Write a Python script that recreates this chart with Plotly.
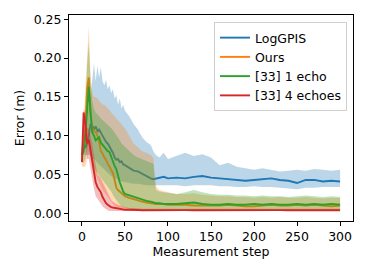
import plotly.graph_objects as go

# ---------------- data ----------------
STEPS = [0, 2, 4, 6, 8, 10, 12, 14, 16, 18, 20, 22, 24, 26, 28, 30, 32, 34, 36, 38,
         40, 42, 44, 46, 48, 50, 55, 60, 65, 70, 75, 80, 83, 86, 90, 95, 100,
         110, 120, 130, 140, 150, 160, 170, 180, 190, 200,
         210, 220, 230, 240, 250, 260, 270, 280, 290, 300]

LOGGPIS_MEAN = [0.082, 0.083, 0.085, 0.090, 0.100, 0.115, 0.113, 0.108, 0.112, 0.106,
                0.108, 0.104, 0.100, 0.097, 0.092, 0.090, 0.086, 0.082, 0.078, 0.072,
                0.069, 0.070, 0.066, 0.067, 0.063, 0.062, 0.058, 0.055, 0.054, 0.051,
                0.047, 0.045, 0.044, 0.045, 0.046, 0.047, 0.045,
                0.046, 0.045, 0.047, 0.048, 0.046, 0.045, 0.044, 0.043, 0.042, 0.043,
                0.044, 0.045, 0.043, 0.042, 0.039, 0.043, 0.043, 0.041, 0.042, 0.041]
LOGGPIS_UPPER = [0.090, 0.095, 0.100, 0.120, 0.140, 0.150, 0.170, 0.193, 0.170, 0.190,
                 0.175, 0.188, 0.170, 0.165, 0.172, 0.160, 0.165, 0.155, 0.160, 0.148,
                 0.152, 0.140, 0.148, 0.135, 0.140, 0.132, 0.125, 0.115, 0.108, 0.098,
                 0.092, 0.088, 0.080, 0.075, 0.072, 0.078, 0.070,
                 0.074, 0.078, 0.074, 0.076, 0.072, 0.062, 0.065, 0.060, 0.058, 0.056,
                 0.058, 0.056, 0.054, 0.055, 0.056, 0.055, 0.057, 0.056, 0.055, 0.056]
LOGGPIS_LOWER = [0.075, 0.075, 0.075, 0.075, 0.075, 0.075, 0.070, 0.070, 0.068, 0.065,
                 0.062, 0.060, 0.058, 0.056, 0.054, 0.052, 0.050, 0.048, 0.046, 0.045,
                 0.044, 0.043, 0.042, 0.041, 0.040, 0.040, 0.039, 0.038, 0.038, 0.037,
                 0.036, 0.036, 0.036, 0.036, 0.036, 0.036, 0.036,
                 0.036, 0.035, 0.036, 0.036, 0.036, 0.035, 0.035, 0.034, 0.034, 0.035,
                 0.034, 0.034, 0.033, 0.032, 0.031, 0.033, 0.033, 0.034, 0.034, 0.034]

OURS_MEAN = [0.075, 0.090, 0.110, 0.160, 0.175, 0.130, 0.110, 0.105, 0.105, 0.100,
             0.092, 0.080, 0.077, 0.072, 0.069, 0.064, 0.060, 0.057, 0.052, 0.043,
             0.033, 0.030, 0.028, 0.026, 0.024, 0.022, 0.020, 0.018, 0.016, 0.015,
             0.014, 0.013, 0.013, 0.012, 0.012, 0.012, 0.011,
             0.011, 0.011, 0.010, 0.010, 0.010, 0.010, 0.011, 0.010, 0.009, 0.009,
             0.010, 0.011, 0.010, 0.010, 0.011, 0.010, 0.011, 0.010, 0.009, 0.010]
OURS_UPPER = [0.080, 0.110, 0.160, 0.210, 0.240, 0.180, 0.155, 0.150, 0.150, 0.148,
              0.145, 0.143, 0.140, 0.140, 0.138, 0.135, 0.133, 0.130, 0.128, 0.125,
              0.122, 0.120, 0.118, 0.115, 0.112, 0.110, 0.100, 0.090, 0.085, 0.080,
              0.078, 0.075, 0.072, 0.035, 0.030, 0.028, 0.027,
              0.025, 0.025, 0.026, 0.024, 0.023, 0.022, 0.022, 0.021, 0.021, 0.020,
              0.021, 0.020, 0.021, 0.020, 0.020, 0.021, 0.020, 0.019, 0.020, 0.020]
OURS_LOWER = [0.060, 0.060, 0.060, 0.070, 0.080, 0.070, 0.060, 0.055, 0.050, 0.045,
              0.040, 0.035, 0.030, 0.027, 0.024, 0.020, 0.018, 0.015, 0.012, 0.010,
              0.008, 0.007, 0.006, 0.005, 0.005, 0.004, 0.004, 0.004, 0.004, 0.004,
              0.004, 0.004, 0.004, 0.004, 0.004, 0.004, 0.004,
              0.004, 0.004, 0.004, 0.004, 0.004, 0.004, 0.004, 0.004, 0.004, 0.004,
              0.004, 0.004, 0.004, 0.004, 0.004, 0.004, 0.004, 0.004, 0.004, 0.004]

ECHO1_MEAN = [0.075, 0.080, 0.100, 0.140, 0.163, 0.130, 0.104, 0.100, 0.094, 0.096,
              0.098, 0.091, 0.088, 0.086, 0.083, 0.080, 0.079, 0.072, 0.066, 0.061,
              0.057, 0.048, 0.040, 0.034, 0.028, 0.025, 0.023, 0.021, 0.020, 0.018,
              0.016, 0.015, 0.014, 0.013, 0.013, 0.012, 0.012,
              0.012, 0.013, 0.014, 0.012, 0.011, 0.011, 0.012, 0.011, 0.011, 0.012,
              0.011, 0.012, 0.011, 0.011, 0.012, 0.011, 0.012, 0.011, 0.012, 0.011]
ECHO1_UPPER = [0.080, 0.090, 0.130, 0.190, 0.220, 0.170, 0.145, 0.135, 0.130, 0.128,
               0.125, 0.122, 0.120, 0.118, 0.116, 0.115, 0.112, 0.110, 0.107, 0.104,
               0.100, 0.097, 0.094, 0.090, 0.088, 0.085, 0.080, 0.075, 0.072, 0.070,
               0.068, 0.066, 0.064, 0.030, 0.028, 0.027, 0.026,
               0.025, 0.027, 0.030, 0.027, 0.025, 0.024, 0.024, 0.023, 0.023, 0.022,
               0.023, 0.022, 0.022, 0.021, 0.022, 0.023, 0.022, 0.021, 0.022, 0.021]
ECHO1_LOWER = [0.065, 0.065, 0.070, 0.080, 0.090, 0.075, 0.065, 0.060, 0.055, 0.052,
               0.050, 0.047, 0.044, 0.040, 0.037, 0.034, 0.031, 0.028, 0.024, 0.020,
               0.017, 0.014, 0.011, 0.009, 0.008, 0.007, 0.006, 0.005, 0.005, 0.005,
               0.004, 0.004, 0.004, 0.004, 0.004, 0.004, 0.004,
               0.004, 0.004, 0.004, 0.004, 0.004, 0.004, 0.004, 0.004, 0.004, 0.004,
               0.004, 0.004, 0.004, 0.004, 0.004, 0.004, 0.004, 0.004, 0.004, 0.004]

ECHO4_MEAN = [0.066, 0.130, 0.115, 0.090, 0.095, 0.080, 0.070, 0.055, 0.040, 0.034,
              0.031, 0.027, 0.021, 0.016, 0.013, 0.011, 0.009, 0.008, 0.0075, 0.007,
              0.0068, 0.006, 0.0055, 0.005, 0.005, 0.0045, 0.0045, 0.004, 0.0042, 0.004,
              0.0041, 0.004, 0.004, 0.0042, 0.004, 0.0039, 0.004,
              0.004, 0.0041, 0.0039, 0.004, 0.0042, 0.004, 0.0039, 0.004, 0.0041, 0.004,
              0.0039, 0.004, 0.0041, 0.004, 0.0039, 0.004, 0.0041, 0.004, 0.004, 0.0039]
ECHO4_UPPER = [0.070, 0.135, 0.130, 0.110, 0.110, 0.100, 0.090, 0.075, 0.060, 0.050,
               0.048, 0.045, 0.040, 0.035, 0.030, 0.025, 0.020, 0.017, 0.015, 0.013,
               0.012, 0.011, 0.010, 0.009, 0.009, 0.008, 0.007, 0.007, 0.0065, 0.006,
               0.006, 0.006, 0.006, 0.006, 0.006, 0.006, 0.006,
               0.006, 0.006, 0.006, 0.006, 0.006, 0.006, 0.006, 0.006, 0.006, 0.006,
               0.006, 0.006, 0.006, 0.006, 0.006, 0.006, 0.006, 0.006, 0.006, 0.006]
ECHO4_LOWER = [0.060, 0.100, 0.090, 0.070, 0.070, 0.060, 0.045, 0.032, 0.022, 0.018,
               0.015, 0.012, 0.009, 0.007, 0.005, 0.004, 0.003, 0.003, 0.003, 0.003,
               0.003, 0.003, 0.003, 0.003, 0.003, 0.003, 0.003, 0.003, 0.003, 0.003,
               0.003, 0.003, 0.003, 0.003, 0.003, 0.003, 0.003,
               0.003, 0.003, 0.003, 0.003, 0.003, 0.003, 0.003, 0.003, 0.003, 0.003,
               0.003, 0.003, 0.003, 0.003, 0.003, 0.003, 0.003, 0.003, 0.003, 0.003]

SERIES_NAMES = ["LogGPIS", "Ours", "[33] 1 echo", "[33] 4 echoes"]
X_TICKS = [0, 50, 100, 150, 200, 250, 300]
Y_TICKS = [0.00, 0.05, 0.10, 0.15, 0.20, 0.25]
Y_TICK_LABELS = ["0.00", "0.05", "0.10", "0.15", "0.20", "0.25"]

# ---------------- styling ----------------
COLORS = ["#1f77b4", "#ff7f0e", "#2ca02c", "#d62728"]
FILLS = ["rgba(31,119,180,0.3)", "rgba(255,127,14,0.3)",
         "rgba(44,160,44,0.3)", "rgba(214,39,40,0.3)"]

series = [
    (LOGGPIS_MEAN, LOGGPIS_LOWER, LOGGPIS_UPPER),
    (OURS_MEAN, OURS_LOWER, OURS_UPPER),
    (ECHO1_MEAN, ECHO1_LOWER, ECHO1_UPPER),
    (ECHO4_MEAN, ECHO4_LOWER, ECHO4_UPPER),
]

fig = go.Figure()
for (mean, lo, hi), name, col, fcol in zip(series, SERIES_NAMES, COLORS, FILLS):
    fig.add_trace(go.Scatter(
        x=STEPS + STEPS[::-1], y=hi + lo[::-1],
        fill="toself", fillcolor=fcol, mode="lines", line=dict(width=0),
        showlegend=False, hoverinfo="skip"))
    fig.add_trace(go.Scatter(
        x=STEPS, y=mean, mode="lines", name=name,
        line=dict(color=col, width=1.9)))

FONT = "DejaVu Sans"
axis_common = dict(
    showline=True, linecolor="black", linewidth=1, mirror=True,
    ticks="outside", ticklen=4, tickwidth=1, tickcolor="black",
    showgrid=False, zeroline=False, automargin=False,
    tickfont=dict(family=FONT, size=12.5, color="black"),
)

# the page body adds an 8px offset on the left and top; the figure is sized
# so that the plot area lands where the reference has it
fig.update_layout(
    width=359, height=267,
    margin=dict(l=61, r=14, t=7, b=54),
    paper_bgcolor="white", plot_bgcolor="white",
    font=dict(family=FONT, size=12.5, color="black"),
    xaxis=dict(range=[-15, 315], tickvals=X_TICKS,
               title=dict(text="Measurement step", standoff=3,
                          font=dict(family=FONT, size=12.5, color="black")),
               **axis_common),
    yaxis=dict(range=[-0.0099, 0.2555], tickvals=Y_TICKS, ticktext=Y_TICK_LABELS,
               title=dict(text="Error (m)", standoff=6,
                          font=dict(family=FONT, size=12.5, color="black")),
               **axis_common),
    legend=dict(x=0.979, y=0.966, xanchor="right", yanchor="top",
                bordercolor="#d0d0d0", borderwidth=1,
                bgcolor="rgba(255,255,255,0.8)",
                font=dict(family=FONT, size=12.5, color="black"),
                tracegroupgap=0, itemwidth=30),
    showlegend=True,
)

fig.write_html("out.html")
